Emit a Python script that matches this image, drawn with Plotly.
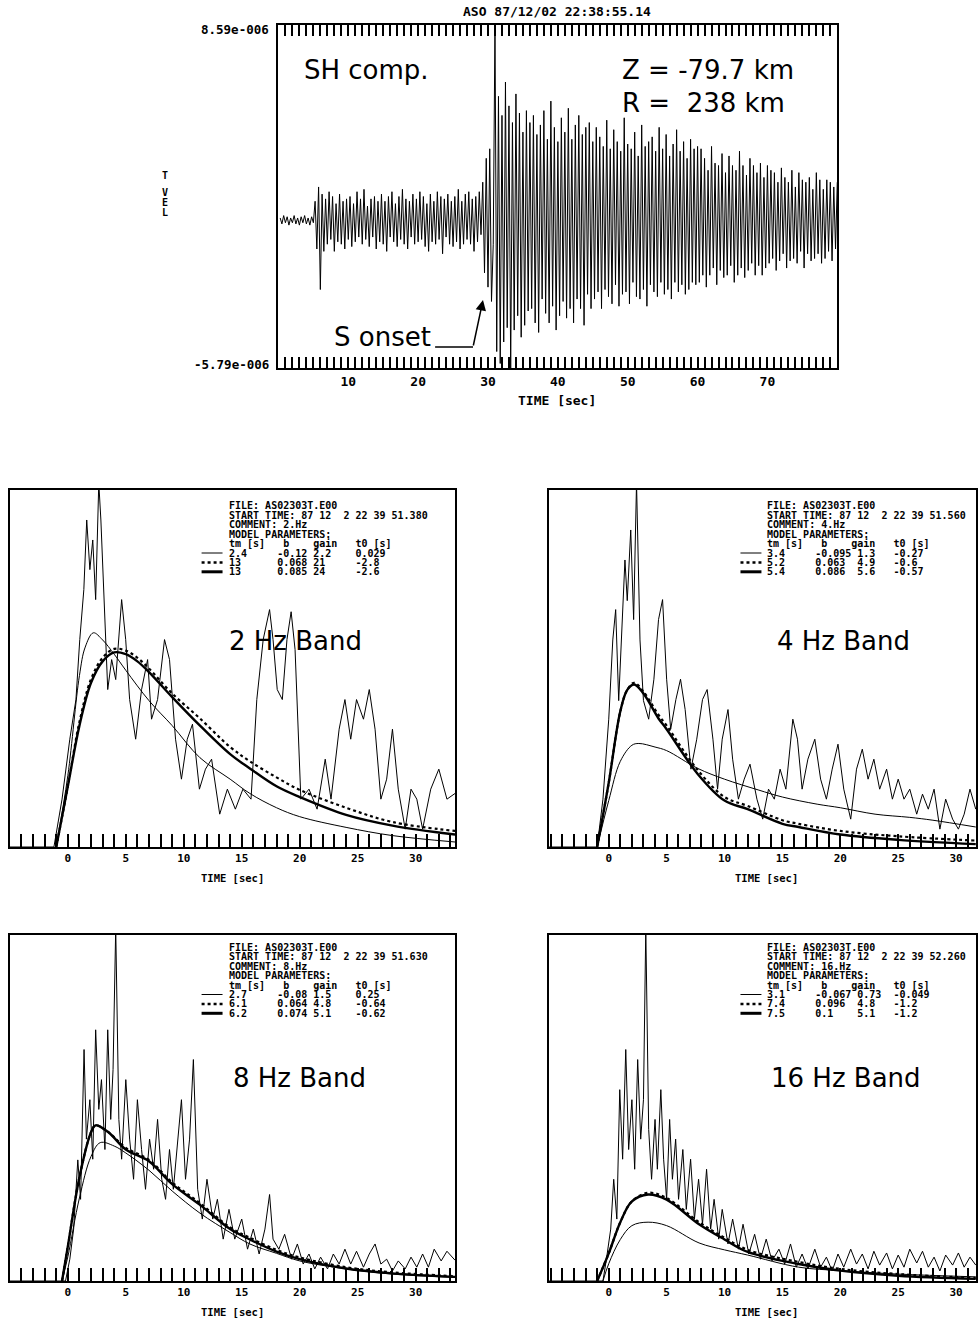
import numpy as np
import plotly.graph_objects as go

# ---------------- data ----------------
TITLE = "ASO 87/12/02 22:38:55.14"
Y_MAX = 8.59
Y_MIN = -5.79
Y_TOP_LABEL = "8.59e-006"
Y_BOT_LABEL = "-5.79e-006"
TOP_TICK_LABELS = [10, 20, 30, 40, 50, 60, 70]

TRACE_T0 = 0.25
TRACE_DT = 0.25
TRACE_OFFSET = 0.4
TRACE = [
    0.1, -0.15, 0.2, -0.1, 0.15, -0.2, 0.1, -0.1, 0.2, -0.15, 0.1, -0.2, 0.15, -0.1, 0.2, -0.15, 0.1, -0.2, 0.15, -0.1,
    0.8, -1.2, 1.4, -2.9, 1.1, -1.3, 0.9,
    -1.0, 1.2, -0.8, 1.0, -1.3, 0.7, -0.9, 1.1, -1.0, 0.8, -1.2, 0.9,
    -0.8, 1.0, -1.1, 0.7, -0.9, 1.2, -0.7, 0.9, -1.0, 1.3, -0.8, 0.6, -1.1, 0.9, -0.7, 1.0, -1.2, 0.8, -0.9, 1.1,
    -1.0, 0.8, -1.3, 1.0, -0.7, 1.2, -0.9, 0.7, -1.1, 1.0, -0.8, 1.3, -1.0, 0.9, -1.2, 0.8, -0.7, 1.1, -1.0, 0.9,
    -0.9, 1.2, -0.8, 1.0, -1.1, 0.7, -1.3, 1.1, -0.9, 0.8, -1.0, 1.2, -0.8, 1.0, -1.4, 0.9, -0.7, 1.1, -1.0, 0.8,
    -1.1, 1.0, -0.9, 1.3, -1.2, 0.8, -1.0, 1.1, -0.8, 1.2, -1.0, 0.9, -1.3, 1.0, -0.9, 1.2, -0.6,
    1.6, -2.2, 2.6, -2.8, 3.0, -3.4, -1.0, 8.3,
    -5.5, 5.2, -6.0, 4.4, -5.1, 5.8, -4.5, 4.8, -6.2, 4.1, -4.6, 5.3, -4.0, 4.5, -4.9, 3.7, -4.4, 4.6, -3.8, 4.1,
    -3.7, 4.4, -4.3, 3.6, -4.7, 4.0, -3.3, 4.6, -3.9, 3.4, -4.3, 5.0, -3.6, 3.9, -4.6, 3.3, -4.0, 4.3,
    -3.4, 3.7, -4.1, 4.7, -3.7, 3.4, -4.3, 4.0, -3.3, 4.4, -3.7, 3.6, -4.4, 3.9, -3.1, 4.1, -3.7, 3.3,
    -3.3, 3.9, -3.0, 3.5, -3.7, 3.1, -2.9, 4.2, -3.2, 3.0, -3.5, 3.8, -2.7, 3.3, -3.6, 2.9, -3.1, 4.3, -3.0, 3.2,
    -3.5, 3.0, -2.6, 3.7, -3.2, 2.7, -3.3, 4.0, -2.9, 3.1, -3.6, 3.3, -2.7, 3.5, -3.0, 2.9, -3.2, 3.9, -2.6, 3.0,
    -3.1, 3.6, -2.9, 2.7, -3.3, 3.2, -2.6, 3.8, -3.0, 2.9, -2.7, 3.3, -3.1, 2.6, -2.9, 3.4, -2.6, 3.0, -2.7, 3.1,
    -2.6, 3.0, -2.3, 2.6, -2.8, 2.1, -2.3, 3.1, -2.0, 2.4, -2.7, 2.3, -2.1, 2.8, -2.4, 2.0, -2.3, 2.7, -1.9, 2.3,
    -2.6, 2.1, -2.3, 2.9, -2.0, 2.3, -2.4, 1.9, -2.1, 2.6, -1.8, 2.3, -2.3, 2.0, -1.9, 2.4, -2.3, 1.8, -2.0, 2.3,
    -1.8, 2.1, -1.6, 2.0, -2.1, 1.6, -1.7, 2.2, -1.4, 1.8, -2.0, 1.6, -1.7, 2.1, -1.6, 1.4, -1.8, 2.0, -1.3, 1.7,
    -2.0, 1.6, -1.4, 1.8, -1.7, 1.3, -1.6, 2.0, -1.4, 1.7, -1.8, 1.3, -1.6, 1.7, -1.3, 1.6, -1.7, 1.4, -1.2, 1.6,
]

LOW_TICK_LABELS = [0, 5, 10, 15, 20, 25, 30]

# 2 Hz band
A_ENV_T = [-5, -1.2, -0.5, 0.17, 0.7, 1.03, 1.38, 1.63, 1.9, 2.15, 2.4, 2.67, 2.85, 3.1, 3.44, 3.78, 4.13, 4.64, 4.99, 5.33,
           5.85, 6.36, 6.88, 7.22, 7.74, 8.34, 8.77, 9.29, 9.8, 10.3, 10.75, 11.35, 11.87, 12.4, 13.1, 13.76, 14.45, 15.1,
           15.8, 16.3, 16.85, 17.4, 17.7, 18.06, 18.5, 18.9, 19.26, 19.6, 20.1, 20.8, 21.5, 22.2, 22.7, 23.4, 23.9, 24.4,
           24.9, 25.5, 26.0, 26.5, 27.0, 27.5, 28.0, 28.5, 29.1, 29.6, 30.1, 30.6, 31.3, 32.0, 32.7, 33.4]
A_ENV_V = [0, 0, 13.4, 30.2, 41.3, 58.1, 72.1, 91.6, 77.7, 86, 69.3, 102, 91.6, 69.3, 44.1, 52.5, 46.9, 69.3, 58.1, 41.3,
           30.2, 44.1, 52.5, 35.8, 41.3, 58.1, 52.5, 30.2, 19, 30.2, 34.4, 16.2, 21.8, 24.6, 9.2, 16.2, 10.6, 16.2,
           13.4, 41.3, 58.1, 66.5, 58.1, 44.1, 41.3, 58.1, 65.9, 55.3, 13.4, 16.2, 10.6, 24.6, 13.4, 33, 41.3, 30.2,
           41.3, 35.8, 44.1, 33, 13.4, 19, 33, 16.2, 5, 16.2, 13.4, 5, 16.2, 21.8, 13.4, 15]
A_THIN_T = [-1.0, 0, 1, 1.5, 2.2, 3, 4, 5, 7, 9, 11.4, 14, 15.7, 18, 20, 24, 28, 33.4]
A_THIN_V = [0, 20, 48, 56, 60, 58, 54, 49.5, 41, 34, 25, 19, 15, 11, 8.5, 5.5, 3.2, 1.4]
A_FIT_T = [-1.0, 0, 1, 2, 3, 4, 5, 6, 7, 9, 11.4, 14, 15.7, 18, 20, 24, 28, 33.4]
A_DOT_V = [0, 17, 35, 47, 53, 55.5, 55, 53, 50, 43, 36, 28, 24, 19.5, 16, 11, 7, 4.5]
A_THICK_V = [0, 17, 34, 46, 52, 54.5, 54, 52, 49, 42, 34, 26, 22, 17, 14, 9, 6, 3.5]

# 4 Hz band
B_ENV_T = [-5.2, -1, -0.5, 0, 0.35, 0.6, 0.86, 1.1, 1.4, 1.6, 1.9, 2.15, 2.4, 2.7, 3.0, 3.45, 3.9, 4.3, 4.65, 5.0,
           5.35, 5.8, 6.2, 6.6, 7.1, 7.6, 8.1, 8.5, 9.0, 9.4, 9.8, 10.3, 10.7, 11.2, 11.7, 12.2, 12.8, 13.3, 13.8, 14.3,
           14.8, 15.3, 15.9, 16.3, 16.7, 17.2, 17.8, 18.3, 18.8, 19.3, 19.8, 20.3, 20.9, 21.4, 21.9, 22.4, 22.9, 23.4,
           24.0, 24.5, 25.0, 25.5, 26.0, 26.6, 27.1, 27.6, 28.1, 28.6, 29.1, 29.7, 30.2, 30.7, 31.2, 31.7]
B_ENV_V = [0, 0, 13.4, 35.8, 58, 66.5, 41, 58, 80.4, 69, 88.8, 63.7, 102, 58, 41, 35.8, 47, 63.7, 69.3, 47,
           33, 41.3, 47, 38.5, 21.8, 30.2, 41.3, 44.1, 30.2, 16.2, 30.2, 38.5, 24.6, 13.4, 19, 23.2, 13.4, 7.8, 16.2, 13.4,
           21.8, 16.2, 35.8, 30.2, 16.2, 24.6, 30.2, 19, 13.4, 21.8, 28.8, 16.2, 7.8, 21.8, 27.4, 19, 24.6, 16.2,
           21.8, 13.4, 19, 13.4, 16.2, 9.2, 14.8, 10.6, 16.2, 5, 13.4, 7.8, 5, 9.2, 16.2, 10.6]
B_THIN_T = [-1, 0, 1, 2, 2.6, 4, 5, 7.7, 10, 12.9, 15, 18, 20, 23, 26, 28, 31.7]
B_THIN_V = [0, 13, 24, 28.5, 29, 28, 27, 22, 19, 16, 14, 12, 11, 9.2, 8.3, 7.5, 5.6]
B_FIT_T = [-1, 0, 1, 1.6, 2.2, 3, 4.3, 5, 7.7, 10, 12, 15, 16.4, 20, 25, 31.7]
B_DOT_V = [0, 18, 38, 44, 46, 43.5, 37, 34, 21.5, 14, 11.5, 7.5, 6.5, 4.5, 3, 1.8]
B_THICK_V = [0, 18, 38, 44, 45.5, 43, 36, 33, 20.4, 13, 10.6, 6.5, 5.6, 3.5, 2, 0.8]

# 8 Hz band
C_ENV_T = [-5, -0.2, 0.17, 0.5, 0.86, 1.1, 1.4, 1.6, 1.9, 2.15, 2.4, 2.67, 2.9, 3.2, 3.44, 3.7, 3.9, 4.13, 4.4, 4.64,
           5.0, 5.33, 5.67, 6.0, 6.36, 6.7, 7.05, 7.4, 7.74, 8.1, 8.43, 8.77, 9.1, 9.46, 9.8, 10.15, 10.5, 10.83, 11.2,
           11.6, 12.0, 12.5, 12.9, 13.4, 13.9, 14.4, 15.0, 15.5, 16.0, 16.5, 17.0, 17.4, 17.7, 18.2, 18.7, 19.3, 19.8,
           20.3, 20.8, 21.3, 21.8, 22.4, 22.9, 23.4, 23.9, 24.4, 24.9, 25.5, 26.0, 26.5, 27.0, 27.5, 28.0, 28.5, 29.1,
           29.6, 30.1, 30.6, 31.1, 31.6, 32.2, 32.7, 33.4]
C_ENV_V = [0, 0, 6.3, 15, 35, 23.6, 66.9, 41, 52.4, 35.2, 72.6, 49.6, 58.2, 38, 72.6, 46.7, 61.1, 102, 46.7, 35.2,
           58.2, 41, 29.4, 52.4, 38, 26.5, 41, 32.3, 46.7, 29.4, 23.6, 38, 26.5, 41, 52.4, 29.4, 41, 64, 26.5,
           17.9, 29.4, 17.9, 23.6, 12.1, 20.7, 12.1, 17.9, 9.2, 15, 7.8, 15, 25, 12.1, 9.2, 13.5, 6.3, 10.7,
           4.9, 7.8, 3.5, 6.9, 3.5, 7.8, 4.9, 9.2, 4.9, 8.6, 4, 7.8, 10.7, 4.9, 6.3, 2.9, 5.8, 3.5,
           6.9, 4, 7.8, 4, 9.2, 5.8, 8.6, 6]
C_THIN_T = [-0.5, 0, 1, 2, 2.8, 4, 5, 7, 9, 11.4, 14, 15.7, 18, 20, 24, 28, 33.4]
C_THIN_V = [0, 7, 24, 36, 40, 39, 37, 32, 26, 19.6, 14, 10.7, 8, 5.8, 3.5, 2, 1]
C_FIT_T = [-0.5, 0, 1, 2, 2.4, 3.5, 5, 7, 9, 11.4, 14, 15.7, 18, 20, 24, 28, 33.4]
C_DOT_V = [0, 10, 30, 43, 45, 43, 38.5, 35, 28.5, 22.5, 15.5, 12.5, 9, 6.8, 4, 2.5, 1.4]
C_THICK_V = [0, 10, 30, 43, 45, 43, 38, 34.6, 28, 22, 15, 12, 8.5, 6.3, 3.6, 2.2, 1.2]

# 16 Hz band
D_ENV_T = [-5.2, -0.5, -0.2, 0.17, 0.43, 0.7, 0.95, 1.2, 1.47, 1.72, 2.0, 2.24, 2.5, 2.76, 3.0, 3.2, 3.45, 3.7, 4.0, 4.2,
           4.5, 4.74, 5.0, 5.26, 5.5, 5.78, 6.03, 6.4, 6.7, 7.07, 7.4, 7.76, 8.1, 8.45, 8.8, 9.1, 9.5, 9.8, 10.3, 10.7,
           11.2, 11.6, 12.1, 12.6, 13.1, 13.6, 14.1, 14.7, 15.2, 15.7, 16.2, 16.7, 17.2, 17.8, 18.3, 18.8, 19.3, 19.8,
           20.3, 20.9, 21.4, 21.9, 22.4, 22.9, 23.4, 24.0, 24.5, 25.0, 25.5, 26.0, 26.6, 27.1, 27.6, 28.1, 28.6, 29.1,
           29.7, 30.2, 30.7, 31.2, 31.7]
D_ENV_V = [0, 0, 6.3, 15, 29.4, 17.9, 55.3, 35.2, 66.9, 38, 52.4, 32.3, 64, 41, 52.4, 102, 43.8, 29.4, 46.7, 32.3,
           55.3, 35.2, 23.6, 46.7, 29.4, 41, 23.6, 38, 20.7, 35.2, 17.9, 29.4, 16.4, 32.3, 15, 23.6, 12.1, 20.7, 10.7, 17.9,
           9.2, 16.4, 7.8, 13.5, 6.3, 12.1, 5.8, 9.2, 4.9, 10.7, 4, 7.8, 3.5, 9.2, 4, 6.9, 2.9, 7.8,
           4, 9.2, 4.9, 7.8, 3.5, 8.6, 4.6, 8.1, 3.5, 7.5, 4, 9.2, 5.2, 8.6, 4, 6.9, 2.9, 7.5,
           4.6, 8.1, 4, 6.9, 4.6]
D_THIN_T = [-0.5, 0, 1, 2, 3.4, 5, 7.8, 10, 12, 16.4, 20, 25, 31.7]
D_THIN_V = [0, 5, 12, 16, 17, 16, 11, 9, 7.5, 4, 3, 2, 1.2]
D_FIT_T = [-1, 0, 1, 2, 3.4, 5, 7.8, 10, 12, 16.4, 20, 25, 31.7]
D_DOT_V = [0, 8, 17, 23, 25.5, 24, 17, 12.5, 9, 5.5, 3.5, 2, 0.9]
D_THICK_V = [0, 8, 17, 23, 25, 23.5, 16.4, 12, 8.4, 4.9, 3, 1.5, 0.6]

BAND_LABELS = ["2 Hz Band", "4 Hz Band", "8 Hz Band", "16 Hz Band"]
START_TIMES = ["87 12  2 22 39 51.380", "87 12  2 22 39 51.560", "87 12  2 22 39 51.630", "87 12  2 22 39 52.260"]
COMMENTS = ["2.Hz", "4.Hz", "8.Hz", "16.Hz"]
PARAM_ROWS = [
    ["2.4     -0.12 2.2    0.029", "13      0.068 21     -2.8", "13      0.085 24     -2.6"],
    ["3.4     -0.095 1.3   -0.27", "5.2     0.063  4.9   -0.6", "5.4     0.086  5.6   -0.57"],
    ["2.7     -0.08 1.5    0.25", "6.1     0.064 4.8    -0.64", "6.2     0.074 5.1    -0.62"],
    ["3.1     -0.067 0.73  -0.049", "7.4     0.096  4.8   -1.2", "7.5     0.1    5.1   -1.2"],
]
FILE_NAME = "AS02303T.E00"

# ---------------- layout helpers ----------------
W, H = 978, 1320
def PX(x):
    return x / W
def PY(y):
    return 1 - y / H

MONO = "DejaVu Sans Mono"
ROUND = "DejaVu Sans"
BLK = "black"

def nb(s):
    return s.replace(" ", "\u00a0")

def note(x, y, text, font, xanchor="center", yanchor="middle", **kw):
    d = dict(x=PX(x), y=PY(y), xref="paper", yref="paper", text=text, showarrow=False,
             xanchor=xanchor, yanchor=yanchor, font=font)
    d.update(kw)
    return d

fig = go.Figure()
annotations = []
shapes = []

# ---------------- top seismogram ----------------
t_top = TRACE_T0 + TRACE_DT * np.arange(len(TRACE))
fig.add_trace(go.Scatter(x=t_top, y=np.array(TRACE) + TRACE_OFFSET, mode="lines",
                         line=dict(color=BLK, width=1), xaxis="x", yaxis="y",
                         showlegend=False, hoverinfo="skip"))

TOP_BOX = (279, 839, 25, 368)  # left, right, top, bottom in px
top_ticks = list(range(0, 81))
top_text = [str(v) if v in TOP_TICK_LABELS else "" for v in top_ticks]

layout = dict(
    width=W, height=H, margin=dict(l=0, r=0, t=0, b=0),
    paper_bgcolor="white", plot_bgcolor="white", showlegend=False,
    xaxis=dict(domain=[PX(TOP_BOX[0]), PX(TOP_BOX[1])], anchor="y", range=[0, 80],
               tickmode="array", tickvals=top_ticks, ticktext=top_text,
               ticks="inside", ticklen=11, tickwidth=1.5, tickcolor=BLK,
               showline=True, linecolor=BLK, linewidth=2, mirror="ticks",
               showgrid=False, zeroline=False,
               tickfont=dict(family=MONO, size=13, color=BLK, weight="bold")),
    yaxis=dict(domain=[PY(TOP_BOX[3]), PY(TOP_BOX[2])], anchor="x", range=[Y_MIN, Y_MAX],
               showticklabels=False, ticks="", showline=True, linecolor=BLK, linewidth=2,
               mirror=True, showgrid=False, zeroline=False),
)

F_MONO13 = dict(family=MONO, size=13, color=BLK, weight="bold")
F_MONO12 = dict(family=MONO, size=12.5, color=BLK, weight="bold")
F_BIG = dict(family=ROUND, size=26, color=BLK)

annotations += [
    note(558, 12, TITLE, F_MONO13),
    note(272, 30, Y_TOP_LABEL, F_MONO12, xanchor="right"),
    note(272, 364, Y_BOT_LABEL, F_MONO12, xanchor="right"),
    note(558, 401, nb("TIME [sec]"), F_MONO13),
    note(303, 70, "SH comp.", F_BIG, xanchor="left"),
    note(621, 70, nb("Z = -79.7 km"), F_BIG, xanchor="left"),
    note(621, 103, nb("R =  238 km"), F_BIG, xanchor="left"),
    note(333, 337, "S onset", F_BIG, xanchor="left"),
    dict(x=PX(484), y=PY(300), xref="paper", yref="paper", ax=-10, ay=47, text="",
         showarrow=True, arrowhead=2, arrowsize=1.4, arrowwidth=1.5, arrowcolor=BLK),
]
for ch, yy in zip(["T", "V", "E", "L"], [176, 192, 202, 212]):
    annotations.append(note(165, yy, ch, dict(family=MONO, size=10, color=BLK, weight="bold")))
shapes.append(dict(type="line", xref="paper", yref="paper", x0=PX(436), x1=PX(474),
                   y0=PY(347), y1=PY(347), line=dict(color=BLK, width=1.5)))

# ---------------- lower panels ----------------
panels = [
    dict(box=(10, 456, 490, 847), rng=[-4.99, 33.4], env=(A_ENV_T, A_ENV_V),
         thin=(A_THIN_T, A_THIN_V), fit_t=A_FIT_T, dot=A_DOT_V, thick=A_THICK_V,
         text_x=227, text_y=506, band_xy=(296, 641), title_x=233),
    dict(box=(550, 978, 490, 847), rng=[-5.17, 31.72], env=(B_ENV_T, B_ENV_V),
         thin=(B_THIN_T, B_THIN_V), fit_t=B_FIT_T, dot=B_DOT_V, thick=B_THICK_V,
         text_x=767, text_y=506, band_xy=(845, 641), title_x=768),
    dict(box=(10, 456, 935, 1281), rng=[-4.99, 33.4], env=(C_ENV_T, C_ENV_V),
         thin=(C_THIN_T, C_THIN_V), fit_t=C_FIT_T, dot=C_DOT_V, thick=C_THICK_V,
         text_x=227, text_y=947.5, band_xy=(300, 1078), title_x=233),
    dict(box=(550, 978, 935, 1281), rng=[-5.17, 31.72], env=(D_ENV_T, D_ENV_V),
         thin=(D_THIN_T, D_THIN_V), fit_t=D_FIT_T, dot=D_DOT_V, thick=D_THICK_V,
         text_x=767, text_y=947.5, band_xy=(848, 1078), title_x=768),
]

low_ticks = list(range(-5, 34))
low_text = [str(v) if v in LOW_TICK_LABELS else "" for v in low_ticks]
F_SMALL = dict(family=MONO, size=10, color=BLK, weight="bold")
F_BAND = dict(family=ROUND, size=26, color=BLK)
F_TLAB = dict(family=MONO, size=10.5, color=BLK, weight="bold")

for i, p in enumerate(panels):
    n = i + 2
    xa, ya = f"x{n}", f"y{n}"
    l, r, tp, bt = p["box"]
    layout[f"xaxis{n}"] = dict(domain=[PX(l), PX(r)], anchor=ya, range=p["rng"],
                               tickmode="array", tickvals=low_ticks, ticktext=low_text,
                               ticks="inside", ticklen=13, tickwidth=1.5, tickcolor=BLK,
                               showline=True, linecolor=BLK, linewidth=2, mirror=True,
                               showgrid=False, zeroline=False,
                               tickfont=dict(family=MONO, size=11, color=BLK, weight="bold"))
    layout[f"yaxis{n}"] = dict(domain=[PY(bt), PY(tp)], anchor=xa, range=[0, 100],
                               showticklabels=False, ticks="", showline=True, linecolor=BLK,
                               linewidth=2, mirror=True, showgrid=False, zeroline=False)
    fig.add_trace(go.Scatter(x=p["env"][0], y=p["env"][1], mode="lines",
                             line=dict(color=BLK, width=1), xaxis=xa, yaxis=ya,
                             showlegend=False, hoverinfo="skip"))
    fig.add_trace(go.Scatter(x=p["thin"][0], y=p["thin"][1], mode="lines",
                             line=dict(color=BLK, width=1, shape="spline"), xaxis=xa, yaxis=ya,
                             showlegend=False, hoverinfo="skip"))
    fig.add_trace(go.Scatter(x=p["fit_t"], y=p["dot"], mode="lines",
                             line=dict(color=BLK, width=2.2, dash="dot", shape="spline"), xaxis=xa, yaxis=ya,
                             showlegend=False, hoverinfo="skip"))
    fig.add_trace(go.Scatter(x=p["fit_t"], y=p["thick"], mode="lines",
                             line=dict(color=BLK, width=2.4, shape="spline"), xaxis=xa, yaxis=ya,
                             showlegend=False, hoverinfo="skip"))
    lines = [f"FILE: {FILE_NAME}", f"START TIME: {START_TIMES[i]}", f"COMMENT: {COMMENTS[i]}",
             "MODEL PARAMETERS:", "tm [s]   b    gain   t0 [s]"] + PARAM_ROWS[i]
    for k, s in enumerate(lines):
        annotations.append(note(p["text_x"], p["text_y"] + 9.4 * k, nb(s), F_SMALL, xanchor="left"))
    for k, (w, dash) in enumerate([(1, "solid"), (2.5, "dot"), (3, "solid")]):
        yy = p["text_y"] + 9.4 * (5 + k)
        shapes.append(dict(type="line", xref="paper", yref="paper",
                           x0=PX(p["text_x"] - 25), x1=PX(p["text_x"] - 4),
                           y0=PY(yy), y1=PY(yy), line=dict(color=BLK, width=w, dash=dash)))
    annotations.append(note(p["band_xy"][0], p["band_xy"][1], BAND_LABELS[i], F_BAND))
    annotations.append(note(p["title_x"], bt + 31, nb("TIME [sec]"), F_TLAB))

layout["annotations"] = annotations
layout["shapes"] = shapes
fig.update_layout(**layout)
fig.write_html("out.html")
